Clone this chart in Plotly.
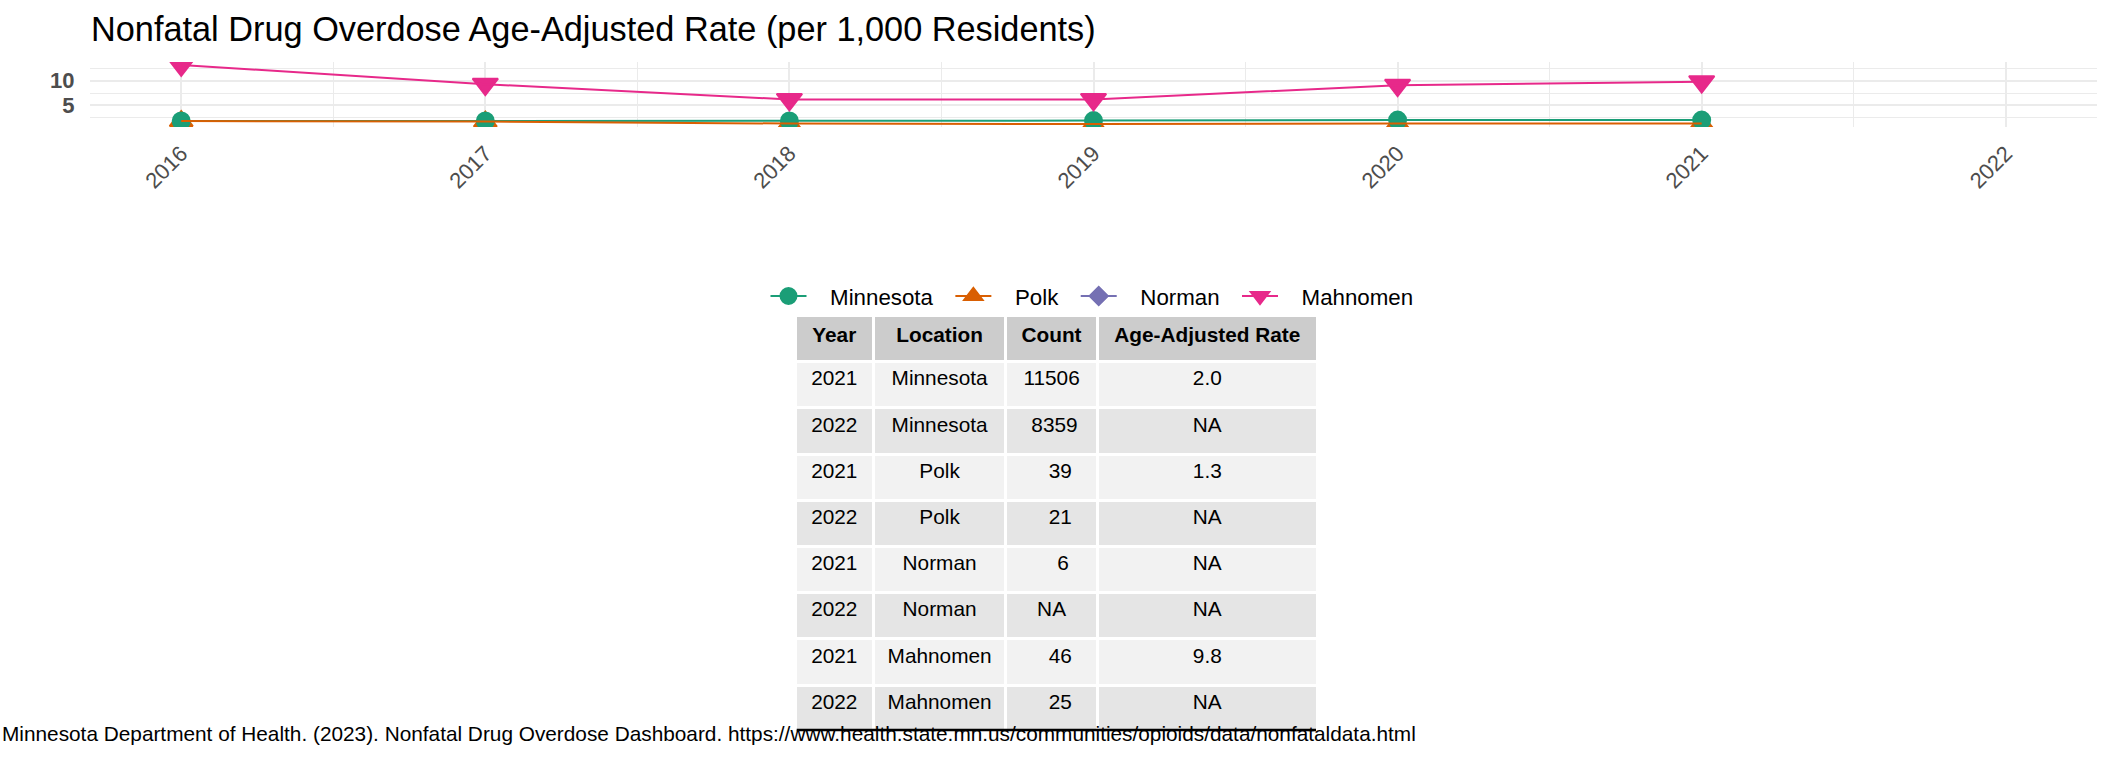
import plotly.graph_objects as go

# ---------------- data ----------------
years = [2016, 2017, 2018, 2019, 2020, 2021, 2022]
minnesota_rate = [1.8, 1.8, 1.8, 1.9, 2.0, 2.0, None]
polk_rate = [1.8, 1.7, 1.3, 1.2, 1.3, 1.3, None]
norman_rate = [None, None, None, None, None, None, None]
mahnomen_rate = [13.2, 9.3, 6.2, 6.2, 9.1, 9.8, None]

series_names = ["Minnesota", "Polk", "Norman", "Mahnomen"]
series_values = [minnesota_rate, polk_rate, norman_rate, mahnomen_rate]

tbl_year = [2021, 2022, 2021, 2022, 2021, 2022, 2021, 2022]
tbl_location = ["Minnesota", "Minnesota", "Polk", "Polk", "Norman", "Norman", "Mahnomen", "Mahnomen"]
tbl_count = [11506, 8359, 39, 21, 6, None, 46, 25]
tbl_rate = [2.0, None, 1.3, None, None, None, 9.8, None]
tbl_header = ["Year", "Location", "Count", "Age-Adjusted Rate"]

title_text = "Nonfatal Drug Overdose Age-Adjusted Rate (per 1,000 Residents)"
caption_text = ("Minnesota Department of Health. (2023). Nonfatal Drug Overdose Dashboard. "
                "https://www.health.state.mn.us/communities/opioids/data/nonfataldata.html")

# ---------------- styles ----------------
W, H = 2112, 768
FONT = "Liberation Sans, Arial, sans-serif"
colors = {"Minnesota": "#1B9E77", "Polk": "#D95F02", "Norman": "#7570B3", "Mahnomen": "#E7298A"}
symbols = {"Minnesota": "circle", "Polk": "triangle-up", "Norman": "diamond", "Mahnomen": "triangle-down"}
msize = {"Minnesota": 17, "Polk": 20, "Norman": 14, "Mahnomen": 22}
GRID = "#EBEBEB"
TICK = "#4D4D4D"
NB = "\u00a0"

# plot area in pixels
px_l, px_r, px_t, px_b = 90, 2097, 62, 127


def fx(p):
    return p / W


def fy(p):
    return 1 - p / H


fig = go.Figure()

# markers first (lines are drawn above all markers); Minnesota markers above Polk
marker_order = ["Polk", "Minnesota", "Norman", "Mahnomen"]
for name in marker_order:
    vals = series_values[series_names.index(name)]
    fig.add_trace(go.Scatter(
        x=years, y=vals, mode="markers", showlegend=False, legendgroup=name,
        marker=dict(symbol=symbols[name], size=msize[name], color=colors[name],
                    line=dict(width=2, color=colors[name])),
        hoverinfo="skip"))

for name, vals in zip(series_names, series_values):
    fig.add_trace(go.Scatter(
        x=years, y=vals, mode="lines", showlegend=False, legendgroup=name,
        line=dict(color=colors[name], width=2), connectgaps=False))

# legend entries (line + marker look)
for name in series_names:
    fig.add_trace(go.Scatter(
        x=[None], y=[None], mode="lines+markers", name=NB * 3 + name + NB * 2, legendgroup=name,
        line=dict(color=colors[name], width=2),
        marker=dict(symbol=symbols[name], size=msize[name], color=colors[name],
                    line=dict(width=2, color=colors[name]))))

# table
def fmt_count(v):
    return "NA" if v is None else str(v).rjust(5, NB)


def fmt_rate(v):
    return "NA" if v is None else f"{v:.1f}"


n = len(tbl_year)
row_fill = ["#F2F2F2" if i % 2 == 0 else "#E5E5E5" for i in range(n)]
tb_l, tb_r, tb_t = 795.2, 1317.5, 315.2
cell_cols = [[str(y) for y in tbl_year], tbl_location,
             [fmt_count(c) for c in tbl_count], [fmt_rate(r) for r in tbl_rate]]
fig.add_trace(go.Table(
    domain=dict(x=[fx(tb_l), fx(tb_r)], y=[fy(762), fy(tb_t)]),
    columnwidth=[78.2, 132.5, 91.6, 220.0],
    header=dict(values=[f"<b>{h}</b>" for h in tbl_header],
                fill_color="#CCCCCC", line=dict(color="white", width=3),
                align="center", height=46.5,
                font=dict(family=FONT, size=20.8, color="black")),
    cells=dict(values=cell_cols,
               fill_color=[row_fill] * 4, line=dict(color="white", width=3),
               align="center", height=46.2,
               font=dict(family=FONT, size=20.8, color="black")),
))

# axis ranges following ggplot's 5% expansion
all_vals = [v for s in series_values for v in s if v is not None]
ylo, yhi = min(all_vals), max(all_vals)
yr = yhi - ylo
xlo, xhi = min(years), max(years)
xr = xhi - xlo

fig.update_layout(
    width=W, height=H,
    margin=dict(l=0, r=0, t=0, b=0, autoexpand=False),
    paper_bgcolor="white", plot_bgcolor="white",
    font=dict(family=FONT, color="black"),
    title=dict(text=title_text, x=fx(91), xanchor="left", xref="paper",
               y=fy(29), yanchor="middle", yref="container",
               font=dict(family=FONT, size=34.3, color="black")),
    xaxis=dict(domain=[fx(px_l), fx(px_r)], range=[xlo - 0.05 * xr, xhi + 0.05 * xr],
               tickmode="linear", tick0=xlo, dtick=1, tickangle=-45,
               tickfont=dict(family=FONT, size=22, color=TICK),
               ticks="outside", ticklen=4, tickcolor="rgba(0,0,0,0)",
               showgrid=True, gridcolor=GRID, gridwidth=2, zeroline=False, showline=False,
               minor=dict(dtick=0.5, showgrid=True, gridcolor=GRID, gridwidth=1, ticks=""),
               fixedrange=True, automargin=False),
    yaxis=dict(domain=[fy(px_b), fy(px_t)], range=[ylo - 0.05 * yr, yhi + 0.05 * yr],
               tickmode="linear", tick0=0, dtick=5,
               tickfont=dict(family=FONT, size=22, color=TICK, weight="bold"),
               ticks="outside", ticklen=10, tickcolor="rgba(0,0,0,0)",
               showgrid=True, gridcolor=GRID, gridwidth=2, zeroline=False, showline=False,
               minor=dict(dtick=2.5, showgrid=True, gridcolor=GRID, gridwidth=1, ticks=""),
               fixedrange=True, automargin=False),
    legend=dict(orientation="h", x=0.5 * (fx(px_l) + fx(px_r)) + fx(5), xanchor="center",
                y=fy(296), yanchor="middle", yref="paper",
                font=dict(family=FONT, size=22.3, color="black"),
                itemwidth=36, bgcolor="rgba(0,0,0,0)"),
    annotations=[dict(text=caption_text, x=0, xref="paper", xanchor="left",
                      y=fy(733.5), yref="paper", yanchor="middle", showarrow=False,
                      font=dict(family=FONT, size=20.8, color="black"))],
    shapes=[dict(type="line", xref="paper", yref="paper", layer="above",
                 x0=fx(tb_l + 1.5), x1=fx(tb_r - 1.5), y0=fy(730), y1=fy(730),
                 line=dict(color="black", width=2.5))],
    showlegend=True,
)

fig.write_html("out.html")
